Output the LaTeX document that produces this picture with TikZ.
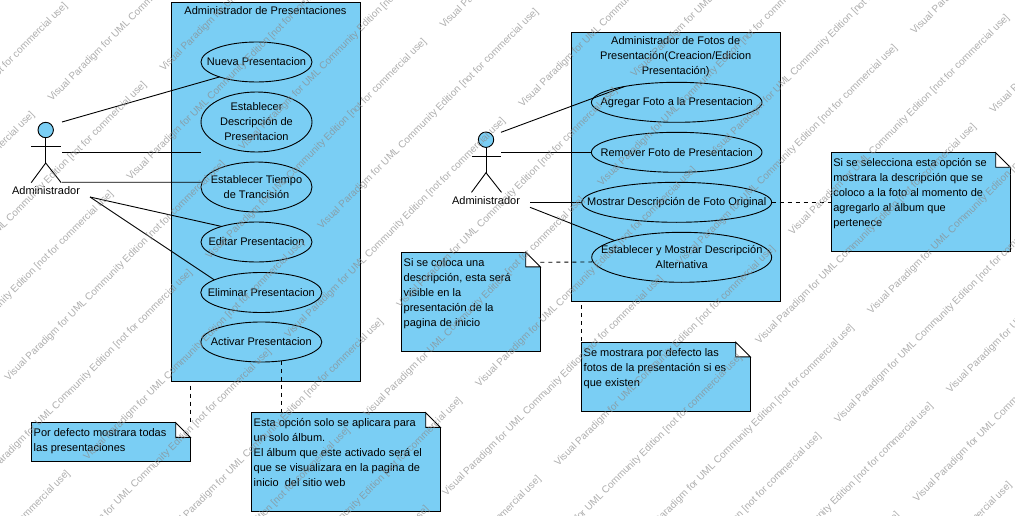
\documentclass[tikz,border=0pt]{standalone}
\usepackage{fontspec}
\setmainfont{Liberation Sans}
\usetikzlibrary{shapes.geometric}
\definecolor{umlblue}{RGB}{122,206,244}
\tikzset{
  x=1pt,y=-1pt,
  line/.style={line width=0.9pt,draw=black},
  dashline/.style={line width=0.9pt,draw=black,dash pattern=on 4pt off 4pt},
  sysbox/.style={draw=black,line width=0.9pt,fill=umlblue,anchor=north west,inner sep=0pt,outer sep=0pt},
  usecase/.style={ellipse,draw=black,line width=0.9pt,inner sep=0pt,outer sep=0pt},
  notebox/.style={draw=black,line width=0.9pt,fill=umlblue,anchor=north west,inner sep=0pt,outer sep=0pt},
  txt/.style={inner sep=0pt,outer sep=0pt,font=\fontsize{11}{15}\selectfont},
  uctext/.style={txt,align=center},
  notetext/.style={txt,align=left,anchor=north west},
  wm/.style={inner sep=0pt,outer sep=0pt,anchor=west,rotate=45,font=\fontsize{10}{12}\selectfont,text=black!45,opacity=0.7},
}
\newcommand{\notefold}[1]{%
  \fill[white] ([xshift=-14.6pt,yshift=1pt]#1.north east) -- ([xshift=1pt,yshift=1pt]#1.north east) -- ([xshift=1pt,yshift=-14.6pt]#1.north east) -- ([xshift=-14.6pt,yshift=-14.6pt]#1.north east) -- cycle;
  \draw[line,line join=miter] ([xshift=-14.6pt]#1.north east) -- ([yshift=-14.6pt]#1.north east) -- ([xshift=-14.6pt,yshift=-14.6pt]#1.north east) -- cycle;
}
\newcommand{\stickman}[3]{% name, head x, head y
  \node[circle,draw=black,line width=0.9pt,fill=umlblue,minimum size=15.4pt,inner sep=0pt,outer sep=0pt] (#1head) at (#2,#3) {};
  \draw[line] (#1head.south) -- (#2,#3+33);
  \draw[line] (#2-14.5,#3+16.3) -- (#2+15,#3+16.3);
  \draw[line] (#2-14.5,#3+52.7) -- (#2,#3+33) -- (#2+15.5,#3+52.7);
}
\begin{document}
\begin{tikzpicture}
\useasboundingbox (0,0) rectangle (1015,516);
\clip (0,0) rectangle (1015,516);
\fill[white] (0,0) rectangle (1015,516);

% systems
\node[sysbox,minimum width=188.6pt,minimum height=378.4pt] (sysa) at (171.7,2.7) {};
\node[txt] (sysat) at (265.5,10.5) {Administrador de Presentaciones};
\node[sysbox,minimum width=208.6pt,minimum height=269pt] (sysb) at (571.7,32.3) {};
\node[txt,align=center,anchor=north] (sysbt) at (675.7,36.3) {Administrador de Fotos de\\Presentación(Creacion/Edicion\\Presentación)};

% use cases, left
\node[usecase,minimum width=111pt,minimum height=40pt] (nueva) at (256.5,62) {};
\node[uctext] (nuevat) at (nueva) {Nueva Presentacion};
\node[usecase,minimum width=111pt,minimum height=60pt] (desc) at (256.5,122) {};
\node[uctext] (desct) at (desc) {Establecer\\Descripción de\\Presentacion};
\node[usecase,minimum width=111pt,minimum height=50pt] (tiempo) at (256.5,187) {};
\node[uctext] (tiempot) at (tiempo) {Establecer Tiempo\\de Trancisión};
\node[usecase,minimum width=111pt,minimum height=40pt] (editar) at (256.5,242) {};
\node[uctext] (editart) at (editar) {Editar Presentacion};
\node[usecase,minimum width=121pt,minimum height=40pt] (eliminar) at (261.3,292.5) {};
\node[uctext] (eliminart) at (eliminar) {Eliminar Presentacion};
\node[usecase,minimum width=121pt,minimum height=40pt] (activar) at (261.3,342) {};
\node[uctext] (activart) at (activar) {Activar Presentacion};

% use cases, right
\node[usecase,minimum width=170.6pt,minimum height=40pt] (agregar) at (676.7,102.3) {};
\node[uctext] (agregart) at (agregar) {Agregar Foto a la Presentacion};
\node[usecase,minimum width=170.6pt,minimum height=40pt] (remover) at (676.7,152.3) {};
\node[uctext] (removert) at (remover) {Remover Foto de Presentacion};
\node[usecase,minimum width=190pt,minimum height=40pt] (mostrar) at (676.7,202.3) {};
\node[uctext] (mostrart) at (mostrar) {Mostrar Descripción de Foto Original};
\node[usecase,minimum width=180pt,minimum height=50pt] (alterna) at (681.7,257.3) {};
\node[uctext] (alternat) at (alterna) {Establecer y Mostrar Descripción\\Alternativa};

% actors
\stickman{acta}{45.7}{130}
\node[txt] (actalabel) at (46,190.5) {Administrador};
\stickman{actb}{486}{139.7}
\node[txt] (actblabel) at (486,200.5) {Administrador};

% free ends of the connectors
\coordinate (a1) at (62,122);
\coordinate (a2) at (62,152);
\coordinate (a3) at (62,182.3);
\coordinate (a4) at (90,197);
\coordinate (a2e) at (201,152);
\coordinate (b1) at (501,132.3);
\coordinate (b2) at (501,152.3);
\coordinate (b3) at (530,202.3);
\coordinate (b4) at (530,207.3);

\draw[line] (a1) -- (nueva.202);
\draw[line] (a2) -- (a2e);
\draw[line] (a3) -- (tiempo.175);
\draw[line] (a4) -- (editar.156);
\draw[line] (a4) -- (eliminar.165.5);
\draw[line] (b1) -- (agregar.163.1);
\draw[line] (b2) -- (remover.west);
\draw[line] (b3) -- (mostrar.west);
\draw[line] (b4) -- (alterna.166.6);

% notes
\node[notebox,minimum width=159pt,minimum height=38.6pt] (noteA) at (31.3,422.7) {};
\notefold{noteA}
\node[notetext] (noteAt) at (33.7,428.6) {Por defecto mostrara todas\\las presentaciones};

\node[notebox,minimum width=189pt,minimum height=98.3pt] (noteB) at (251.3,412.7) {};
\notefold{noteB}
\node[notetext] (noteBt) at (253.7,418.6) {Esta opción solo se aplicara para\\un solo álbum.\\El álbum que este activado será el\\que se visualizara en la pagina de\\inicio\ \ del sitio web};

\node[notebox,minimum width=138.6pt,minimum height=98.7pt] (noteC) at (401.7,252.3) {};
\notefold{noteC}
\node[notetext] (noteCt) at (403.7,258.2) {Si se coloca una\\descripción, esta será\\visible en la\\presentación de la\\pagina de inicio};

\node[notebox,minimum width=179pt,minimum height=98.3pt] (noteD) at (831.3,152.7) {};
\notefold{noteD}
\node[notetext] (noteDt) at (833.3,158.6) {Si se selecciona esta opción se\\mostrara la descripción que se\\coloco a la foto al momento de\\agregarlo al álbum que\\pertenece};

\node[notebox,minimum width=169pt,minimum height=69pt] (noteE) at (581.3,342.3) {};
\notefold{noteE}
\node[notetext] (noteEt) at (583.7,348.2) {Se mostrara por defecto las\\fotos de la presentación si es\\que existen};

% dashed note connectors
\coordinate (d1) at (190.3,385.7);
\coordinate (d3) at (540.3,262.3);
\coordinate (d5) at (581.3,305);
\coordinate (d2) at (noteB.north west -| activar.-43.4);
\draw[dashline] (d1) -- (noteA.north east);
\draw[dashline] (activar.-43.4) -- (d2);
\draw[dashline] (d3) -- (alterna.183.2);
\draw[dashline] (mostrar.east) -- (noteD.west |- mostrar.east);
\draw[dashline] (d5) -- (noteE.north west);

% watermark
\foreach \bx/\by/\b in {50/100/p,162/70/q}{
  \foreach \j in {-2,...,2}{
    \foreach \k in {-3,...,10}{
      \pgfmathsetmacro{\wx}{\bx+392*\j+78.9*\k}
      \pgfmathsetmacro{\wy}{\by-73*\j+78.9*\k}
      \pgfmathparse{and(and(\wx>-230,\wx<1020),and(\wy>-10,\wy<740))}
      \ifdim\pgfmathresult pt>0pt
        \node[wm] (wm\b\j\k) at (\wx,\wy) {Visual Paradigm for UML Community Edition [not for commercial use]};
      \fi
    }
  }
}
\end{tikzpicture}
\end{document}
